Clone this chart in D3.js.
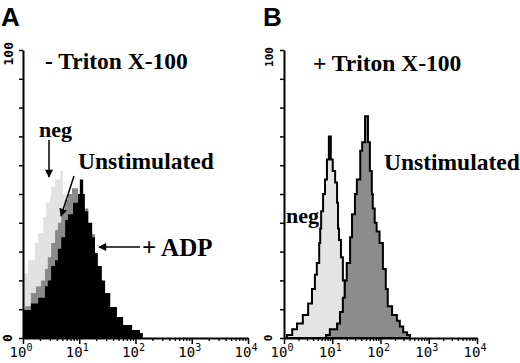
<!DOCTYPE html>
<html>
<head>
<meta charset="utf-8">
<script src="https://cdn.jsdelivr.net/npm/d3@7"></script>
<style>
  body { margin: 0; background: #fff; }
  svg { display: block; }
</style>
</head>
<body>
<svg id="chart" width="520" height="363"></svg>
<script>
// histograms: [log10 fluorescence, % of max counts]
const aNeg = [[0,22.5],[0.09,27],[0.21,33],[0.27,36.5],[0.36,42],[0.41,47],[0.48,49],[0.50,52.5],[0.57,55],[0.66,58],[0.71,50],[0.76,45],[0.87,36],[1.01,25],[1.19,12],[1.37,5],[1.55,1],[1.64,0]];
const aUnstim = [[0,10],[0.04,11],[0.14,15.6],[0.23,18],[0.32,20],[0.39,24],[0.44,28],[0.50,33],[0.57,37.5],[0.62,40],[0.68,44],[0.75,48],[0.80,50],[0.87,52],[0.98,50],[1.07,45],[1.16,36],[1.28,25],[1.40,15],[1.55,7],[1.72,2],[1.87,0]];
const aADP = [[0,9.7],[0.14,12],[0.27,14],[0.39,18],[0.44,20],[0.50,25],[0.57,27],[0.62,31],[0.68,35],[0.75,41],[0.80,43],[0.89,47],[0.98,50],[1.01,55],[1.07,50],[1.10,44],[1.16,40],[1.23,35],[1.28,29.5],[1.33,25],[1.40,20],[1.46,15.6],[1.55,10.8],[1.67,7.3],[1.78,4.5],[1.94,2.8],[2.08,1.7],[2.13,0]];

const bNeg = [[0.06,1],[0.17,3],[0.27,5],[0.39,8],[0.50,12],[0.58,17],[0.64,22],[0.68,26],[0.73,33],[0.75,38],[0.77,44],[0.81,50],[0.85,55],[0.89,62],[0.93,70],[0.97,62],[1.01,58],[1.06,54],[1.10,47],[1.12,38],[1.14,34],[1.18,28],[1.22,20],[1.26,12],[1.33,6],[1.41,3],[1.57,1],[1.78,0]];
const bUnstim = [[0.75,0],[0.87,1],[0.95,3],[1.10,5],[1.16,9],[1.22,14],[1.26,20],[1.30,26],[1.37,35],[1.41,43],[1.47,50],[1.51,55],[1.58,65],[1.62,68],[1.68,77],[1.74,68],[1.78,58],[1.82,50],[1.84,45],[1.88,40],[1.92,37],[1.98,33],[2.05,24],[2.11,17],[2.15,11],[2.24,8],[2.34,6],[2.40,4],[2.47,2],[2.55,1],[2.61,0]];

const decades = [0, 1, 2, 3, 4];
const yTicks = [0, 10, 20, 30, 40, 50, 60, 70, 80, 90, 100];

const svg = d3.select('#chart');

function panel(cfg) {
    const x = d3.scaleLog().domain([1, 1e4]).range(cfg.xr);
    const y = d3.scaleLinear().domain([0, 100]).range([338, 50]);
    const g = svg.append('g');

    const area = d3.area()
        .curve(d3.curveStepAfter)
        .x(d => x(Math.pow(10, d[0])))
        .y0(y(0))
        .y1(d => y(d[1]));

    cfg.series.forEach(s => {
        g.append('path')
            .attr('d', area(s.data))
            .attr('fill', s.fill)
            .attr('stroke', s.stroke || 'none')
            .attr('stroke-width', 2)
            .attr('stroke-linejoin', 'miter');
    });

    // minor log ticks
    const minor = [];
    for (let e = 0; e < 4; e++) for (let m = 2; m < 10; m++) minor.push(m * Math.pow(10, e));
    g.append('g')
        .attr('transform', `translate(0,${y(0)})`)
        .call(d3.axisBottom(x).tickValues(minor).tickSize(3).tickFormat('').tickSizeOuter(0))
        .call(a => a.selectAll('line').attr('stroke', '#000').attr('stroke-width', 1.3))
        .call(a => a.select('.domain').attr('stroke-width', 2));
    g.append('g')
        .attr('transform', `translate(0,${y(0)})`)
        .call(d3.axisBottom(x).tickValues(decades.map(d => Math.pow(10, d))).tickSize(6).tickFormat('').tickSizeOuter(0))
        .call(a => a.selectAll('line').attr('stroke', '#000').attr('stroke-width', 1.5))
        .call(a => a.select('.domain').remove());

    decades.forEach(d => {
        const t = g.append('text')
            .attr('x', x(Math.pow(10, d)) - 2)
            .attr('y', 357)
            .attr('text-anchor', 'middle')
            .style('font-family', 'DejaVu Sans Mono')
            .style('font-size', '14px')
            .text('10');
        t.append('tspan')
            .attr('dy', -6)
            .style('font-size', '10px')
            .text(d);
    });

    g.append('g')
        .attr('transform', `translate(${cfg.xr[0]},0)`)
        .call(d3.axisLeft(y).tickValues(yTicks).tickSize(4).tickFormat('').tickSizeOuter(0))
        .call(a => a.selectAll('line').attr('stroke', '#000').attr('stroke-width', 1.5))
        .call(a => a.select('.domain').attr('stroke-width', 2));

    g.append('text')
        .attr('transform', `translate(${cfg.xr[0] - 15},${cfg.topLabelY}) rotate(-90)`)
        .attr('text-anchor', 'end')
        .attr('dy', '0.35em')
        .style('font-family', 'DejaVu Sans Mono')
        .style('font-size', cfg.tickSize + 'px')
        .style('font-weight', 'bold')
        .text('100');
    g.append('text')
        .attr('transform', `translate(${cfg.xr[0] - 16},${y(0)}) rotate(-90)`)
        .attr('text-anchor', 'middle')
        .attr('dy', '0.35em')
        .style('font-family', 'DejaVu Sans Mono')
        .style('font-size', cfg.tickSize + 'px')
        .style('font-weight', 'bold')
        .text('0');

    g.append('text')
        .attr('x', cfg.letterX).attr('y', 26)
        .style('font-family', 'Liberation Sans')
        .style('font-weight', 'bold')
        .style('font-size', '26px')
        .text(cfg.letter);

    cfg.labels.forEach(l => {
        g.append('text')
            .attr('x', l.x).attr('y', l.y)
            .style('font-family', 'Liberation Serif')
            .style('font-weight', 'bold')
            .style('font-size', l.size + 'px')
            .text(l.text);
    });
    return g;
}

svg.append('defs').append('marker')
    .attr('id', 'head')
    .attr('viewBox', '0 0 10 10')
    .attr('refX', 9).attr('refY', 5)
    .attr('markerWidth', 9).attr('markerHeight', 8)
    .attr('markerUnits', 'userSpaceOnUse')
    .attr('orient', 'auto')
    .append('path').attr('d', 'M0,0L10,5L0,10z').attr('fill', '#000');

const gA = panel({
    xr: [23, 248], letter: 'A', letterX: 1, topLabelY: 42, tickSize: 13,
    series: [
        { data: aNeg, fill: '#e2e2e2' },
        { data: aUnstim, fill: '#8a8a8a' },
        { data: aADP, fill: '#000' }
    ],
    labels: [
        { text: '- Triton X-100', x: 45, y: 69, size: 23.5 },
        { text: 'neg', x: 39, y: 137, size: 22 },
        { text: 'Unstimulated', x: 78, y: 169, size: 23.5 },
        { text: '+ ADP', x: 142, y: 256, size: 25 }
    ]
});

const arrows = [[49, 140, 49, 177], [74, 176, 61, 216], [140, 247, 99, 247]];
arrows.forEach(a => {
    gA.append('line')
        .attr('x1', a[0]).attr('y1', a[1]).attr('x2', a[2]).attr('y2', a[3])
        .attr('stroke', '#000').attr('stroke-width', 1.5)
        .attr('marker-end', 'url(#head)');
});

panel({
    xr: [284, 477], letter: 'B', letterX: 263, topLabelY: 47, tickSize: 11,
    series: [
        { data: bNeg, fill: '#e4e4e4', stroke: '#000' },
        { data: bUnstim, fill: '#8c8c8c', stroke: '#000' }
    ],
    labels: [
        { text: '+ Triton X-100', x: 313, y: 71, size: 23.5 },
        { text: 'Unstimulated', x: 384, y: 170, size: 23.5 },
        { text: 'neg', x: 286, y: 223, size: 22 }
    ]
});
</script>
</body>
</html>
